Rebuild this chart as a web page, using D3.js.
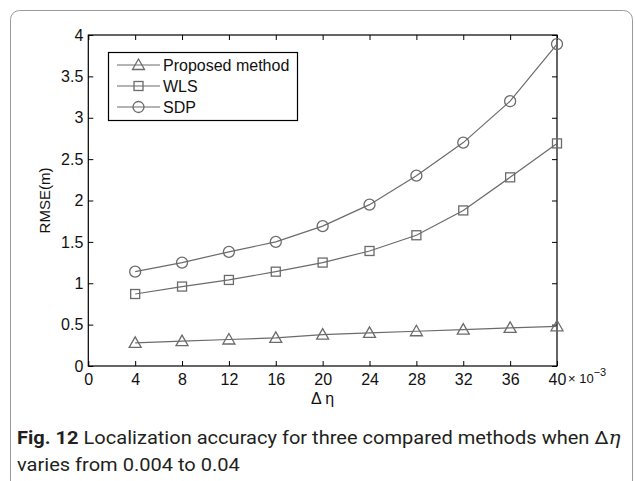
<!DOCTYPE html>
<html>
<head>
<meta charset="utf-8">
<script src="https://cdn.jsdelivr.net/npm/d3@7"></script>
<style>
  html, body { margin: 0; padding: 0; background: #fff; }
  svg { display: block; }
</style>
</head>
<body>
<svg id="chart" width="635" height="481"></svg>
<script>
// RMSE (m) versus the perturbation Δη (×10^-3)
const deltaEta = [4, 8, 12, 16, 20, 24, 28, 32, 36, 40];
const proposed = [0.28, 0.30, 0.32, 0.34, 0.38, 0.40, 0.42, 0.44, 0.46, 0.48];
const wls      = [0.87, 0.96, 1.04, 1.14, 1.25, 1.39, 1.58, 1.88, 2.28, 2.69];
const sdp      = [1.14, 1.25, 1.38, 1.50, 1.69, 1.95, 2.30, 2.70, 3.20, 3.89];
const seriesNames = ["Proposed method", "WLS", "SDP"];
const xTicks = [0, 4, 8, 12, 16, 20, 24, 28, 32, 36, 40];
const yTicks = [0, 0.5, 1, 1.5, 2, 2.5, 3, 3.5, 4];

const svg = d3.select("#chart");
const plot = { left: 88.3, right: 557, top: 35, bottom: 366 };
const lineColor = "#6b6b6b";
const axisFont = "'Liberation Sans', Arial, Helvetica, sans-serif";

// outer panel with rounded corners (runs off the bottom edge)
svg.append("rect")
  .attr("x", 10.5).attr("y", 10.5)
  .attr("width", 622).attr("height", 520)
  .attr("rx", 9).attr("ry", 9)
  .attr("fill", "none").attr("stroke", "#9a9a9a").attr("stroke-width", 1);

const x = d3.scaleLinear().domain([0, 40]).range([plot.left, plot.right]);
const y = d3.scaleLinear().domain([0, 4]).range([plot.bottom, plot.top]);

const fmt = d3.format("~g");

function styleAxis(g) {
  g.select(".domain").remove();
  g.selectAll(".tick line").attr("stroke", "#000").attr("stroke-width", 1);
  g.selectAll(".tick text")
    .attr("fill", "#111")
    .style("font-family", axisFont)
    .style("font-size", "16px");
}

// bottom / left axes with inward ticks
svg.append("g")
  .attr("transform", `translate(0,${plot.bottom})`)
  .call(d3.axisBottom(x).tickValues(xTicks).tickFormat(fmt).tickSize(-5).tickPadding(8))
  .call(styleAxis);

svg.append("g")
  .attr("transform", `translate(${plot.left},0)`)
  .call(d3.axisLeft(y).tickValues(yTicks).tickFormat(fmt).tickSize(-5).tickPadding(5))
  .call(styleAxis);

// top / right axes: ticks only
svg.append("g")
  .attr("transform", `translate(0,${plot.top})`)
  .call(d3.axisTop(x).tickValues(xTicks).tickFormat("").tickSize(-5))
  .call(styleAxis);

svg.append("g")
  .attr("transform", `translate(${plot.right},0)`)
  .call(d3.axisRight(y).tickValues(yTicks).tickFormat("").tickSize(-5))
  .call(styleAxis);

// plot frame
svg.append("rect")
  .attr("x", plot.left).attr("y", plot.top)
  .attr("width", plot.right - plot.left).attr("height", plot.bottom - plot.top)
  .attr("fill", "none").attr("stroke", "#000").attr("stroke-width", 1.2);

// exponent label for the x axis
const expo = svg.append("text")
  .attr("x", 568).attr("y", 383)
  .attr("fill", "#111")
  .style("font-family", axisFont).style("font-size", "13px");
expo.append("tspan").text("× 10");
expo.append("tspan").attr("dy", -7).style("font-size", "11px").text("−3");

// axis titles
svg.append("text")
  .attr("x", (plot.left + plot.right) / 2).attr("y", 404)
  .attr("text-anchor", "middle").attr("fill", "#111")
  .style("font-family", axisFont).style("font-size", "16px")
  .text("Δ η");

svg.append("text")
  .attr("transform", `translate(50,${(plot.top + plot.bottom) / 2}) rotate(-90)`)
  .attr("text-anchor", "middle").attr("fill", "#111")
  .style("font-family", axisFont).style("font-size", "15px")
  .text("RMSE(m)");

// marker shapes
const markers = {
  triangle: g => g.append("path").attr("d", "M0,-6 L6,4.5 L-6,4.5 Z"),
  square: g => g.append("rect").attr("x", -4.5).attr("y", -4.5).attr("width", 9).attr("height", 9),
  circle: g => g.append("circle").attr("r", 5.5)
};

const series = [
  { name: seriesNames[0], values: proposed, marker: "triangle" },
  { name: seriesNames[1], values: wls, marker: "square" },
  { name: seriesNames[2], values: sdp, marker: "circle" }
];

const line = d3.line().x(d => x(d[0])).y(d => y(d[1]));

series.forEach(s => {
  const pts = deltaEta.map((d, i) => [d, s.values[i]]);
  svg.append("path")
    .datum(pts)
    .attr("d", line)
    .attr("fill", "none").attr("stroke", lineColor).attr("stroke-width", 1.2);
  const mg = svg.append("g")
    .attr("fill", "none").attr("stroke", lineColor).attr("stroke-width", 1.3);
  pts.forEach(p => {
    const g = mg.append("g").attr("transform", `translate(${x(p[0])},${y(p[1])})`);
    markers[s.marker](g);
  });
});

// legend
const legend = svg.append("g");
legend.append("rect")
  .attr("x", 108.5).attr("y", 52.5).attr("width", 189).attr("height", 68)
  .attr("fill", "#fff").attr("stroke", "#000").attr("stroke-width", 1.2);
const legendY = [65, 86, 107];
series.forEach((s, i) => {
  const ly = legendY[i];
  legend.append("line")
    .attr("x1", 117).attr("x2", 160).attr("y1", ly).attr("y2", ly)
    .attr("stroke", lineColor).attr("stroke-width", 1.2);
  const g = legend.append("g")
    .attr("transform", `translate(138.5,${ly})`)
    .attr("fill", "none").attr("stroke", lineColor).attr("stroke-width", 1.3);
  markers[s.marker](g);
  legend.append("text")
    .attr("x", 163).attr("y", ly + 5.5)
    .attr("fill", "#111")
    .style("font-family", axisFont).style("font-size", "16px")
    .text(s.name);
});

// figure caption
const capFont = "'Liberation Sans Narrow', 'Roboto', 'Noto Sans', sans-serif";
const cap = svg.append("g");
const line1 = cap.append("text")
  .attr("x", 0).attr("y", 444)
  .attr("fill", "#231f20")
  .style("font-family", capFont).style("font-size", "18px");
line1.append("tspan").attr("font-weight", "bold").text("Fig. 12");
line1.append("tspan").text(" Localization accuracy for three compared methods when Δ");
line1.append("tspan")
  .style("font-family", "'DejaVu Serif', 'Liberation Serif', serif")
  .style("font-style", "italic")
  .text("η");
const line2 = cap.append("text")
  .attr("x", 0).attr("y", 471)
  .attr("fill", "#231f20")
  .style("font-family", capFont).style("font-size", "18px")
  .text("varies from 0.004 to 0.04");

// fit the first caption line to the panel width
const w1 = line1.node().getComputedTextLength();
const sx = 604 / w1;
cap.attr("transform", `translate(17,0) scale(${sx},1)`);
</script>
</body>
</html>
